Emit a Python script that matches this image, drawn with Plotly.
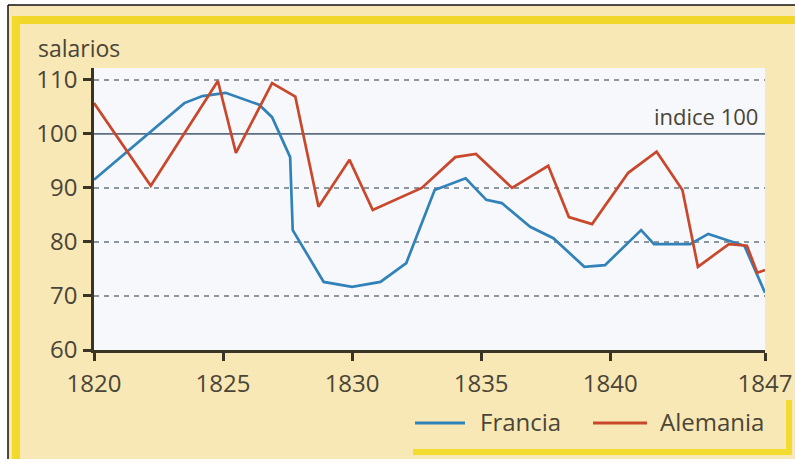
import plotly.graph_objects as go

# ---------------- data ----------------
francia_years = [1820, 1823.5, 1824.2, 1825.1, 1826.4, 1826.9, 1827.6, 1827.7, 1828.9, 1830.0,
                 1831.1, 1832.1, 1833.2, 1834.4, 1835.2, 1835.8, 1836.9, 1837.8, 1839.0, 1839.8,
                 1841.2, 1841.7, 1843.1, 1843.8, 1845.2, 1846]
francia_vals = [91.5, 105.7, 107.0, 107.6, 105.4, 103.1, 95.7, 82.2, 72.6, 71.7,
                72.6, 76.1, 89.6, 91.8, 87.8, 87.2, 82.8, 80.7, 75.4, 75.7,
                82.2, 79.6, 79.6, 81.5, 79.3, 70.6]

alemania_years = [1820, 1822.2, 1824.8, 1825.5, 1826.9, 1827.8, 1828.7, 1829.9, 1830.8, 1832.7,
                  1834.0, 1834.8, 1836.2, 1837.6, 1838.4, 1839.3, 1840.7, 1841.8, 1842.8, 1843.4,
                  1844.6, 1845.3, 1845.7, 1846]
alemania_vals = [105.7, 90.4, 109.8, 96.5, 109.4, 106.9, 86.5, 95.2, 85.9, 90.0,
                 95.7, 96.3, 90.0, 94.1, 84.6, 83.3, 92.8, 96.7, 89.6, 75.4,
                 79.6, 79.3, 74.3, 74.8]

series_names = ["Francia", "Alemania"]
x_tickvals = [1820, 1825, 1830, 1835, 1840, 1846]
x_ticktext = ["1820", "1825", "1830", "1835", "1840", "1847"]
y_tickvals = [60, 70, 80, 90, 100, 110]
grid_vals = [70, 80, 90, 110]
index_val = 100

# ---------------- styling ----------------
W, H = 795, 459
L, R, T, B = 94, 30, 68, 109
PW, PH = W - L - R, H - T - B
FONT = "Open Sans, Noto Sans, DejaVu Sans"
TXT = "#4a4536"
AXIS = "#3a3426"
BLUE = "#3182b9"
RED = "#c9482c"
COLORS = [BLUE, RED]


def px(x):
    return (x - L) / PW


def py(y):
    return (H - B - y) / PH


fig = go.Figure()
fig.add_trace(go.Scatter(x=francia_years, y=francia_vals, mode="lines", name=series_names[0],
                         line=dict(color=BLUE, width=2.7), showlegend=False, hoverinfo="skip"))
fig.add_trace(go.Scatter(x=alemania_years, y=alemania_vals, mode="lines", name=series_names[1],
                         line=dict(color=RED, width=2.7), showlegend=False, hoverinfo="skip"))

shapes = []
# dashed grid lines
for g in grid_vals:
    shapes.append(dict(type="line", xref="paper", yref="y", x0=0, x1=1, y0=g, y1=g,
                       line=dict(color="#6b7480", width=1.5, dash="5px,5px"), layer="below"))
# index 100 line
shapes.append(dict(type="line", xref="paper", yref="y", x0=0, x1=1, y0=index_val, y1=index_val,
                   line=dict(color="#5d6e80", width=1.8), layer="below"))
# page decoration
shapes += [
    dict(type="rect", xref="paper", yref="paper", x0=px(0), x1=px(8), y0=py(H), y1=py(0),
         fillcolor="white", line=dict(width=0), layer="below"),
    dict(type="rect", xref="paper", yref="paper", x0=px(0), x1=px(W), y0=py(5), y1=py(0),
         fillcolor="white", line=dict(width=0), layer="below"),
    dict(type="line", xref="paper", yref="paper", x0=px(8), x1=px(W), y0=py(5), y1=py(5),
         line=dict(color="#111", width=1.5)),
    dict(type="line", xref="paper", yref="paper", x0=px(8), x1=px(8), y0=py(5), y1=py(H),
         line=dict(color="#111", width=1.5)),
    dict(type="rect", xref="paper", yref="paper", x0=px(12), x1=px(W), y0=py(24), y1=py(16),
         fillcolor="#f0d72a", line=dict(width=0), layer="below"),
    dict(type="rect", xref="paper", yref="paper", x0=px(12), x1=px(20), y0=py(H), y1=py(16),
         fillcolor="#f2da2c", line=dict(width=0), layer="below"),
    dict(type="rect", xref="paper", yref="paper", x0=px(413), x1=px(792), y0=py(455), y1=py(449),
         fillcolor="#f3dc30", line=dict(width=0), layer="below"),
    dict(type="rect", xref="paper", yref="paper", x0=px(786), x1=px(792), y0=py(455), y1=py(400),
         fillcolor="#f3dc30", line=dict(width=0), layer="below"),
]

annotations = [
    dict(text="salarios", xref="paper", yref="paper", x=px(36), y=py(48), xanchor="left",
         yanchor="middle", showarrow=False, font=dict(family=FONT, size=23, color=TXT)),
    dict(text="indice 100", xref="paper", yref="y", x=px(760), y=index_val, xanchor="right",
         yanchor="bottom", yshift=1, showarrow=False, font=dict(family=FONT, size=22, color=TXT)),
]

# legend drawn as line samples + labels
legend_line_x = [(415, 465), (593, 647)]
legend_text_x = [478, 658]
legend_y = 421
for name, col, (a, b), tx in zip(series_names, COLORS, legend_line_x, legend_text_x):
    shapes.append(dict(type="line", xref="paper", yref="paper", x0=px(a), x1=px(b),
                       y0=py(legend_y + 2), y1=py(legend_y + 2), line=dict(color=col, width=3)))
    annotations.append(dict(text=name, xref="paper", yref="paper", x=px(tx), y=py(legend_y),
                            xanchor="left", yanchor="middle", showarrow=False,
                            font=dict(family=FONT, size=24, color=TXT)))

fig.update_layout(
    width=W, height=H,
    margin=dict(l=L, r=R, t=T, b=B, autoexpand=False),
    paper_bgcolor="#f8e8b6",
    plot_bgcolor="#f6f8fb",
    font=dict(family=FONT, color=TXT, size=24),
    shapes=shapes,
    annotations=annotations,
    showlegend=False,
    hovermode=False,
    xaxis=dict(range=[1820, 1846], tickvals=x_tickvals, ticktext=x_ticktext,
               showgrid=False, zeroline=False, showline=True, linecolor=AXIS, linewidth=2.5,
               ticks="outside", ticklen=8, tickwidth=2.5, tickcolor=AXIS, automargin=False,
               tickfont=dict(family=FONT, size=24, color=TXT), ticklabelstandoff=2),
    yaxis=dict(range=[60, 112.2], tickvals=y_tickvals, showgrid=False, zeroline=False,
               showline=True, linecolor=AXIS, linewidth=2.5, automargin=False,
               ticks="outside", ticklen=8, tickwidth=2.5, tickcolor=AXIS,
               tickfont=dict(family=FONT, size=24, color=TXT), ticklabelstandoff=1),
)

fig.write_html("out.html", config={"displayModeBar": False},
               post_script="document.body.style.margin='0';document.body.style.overflow='hidden';")
